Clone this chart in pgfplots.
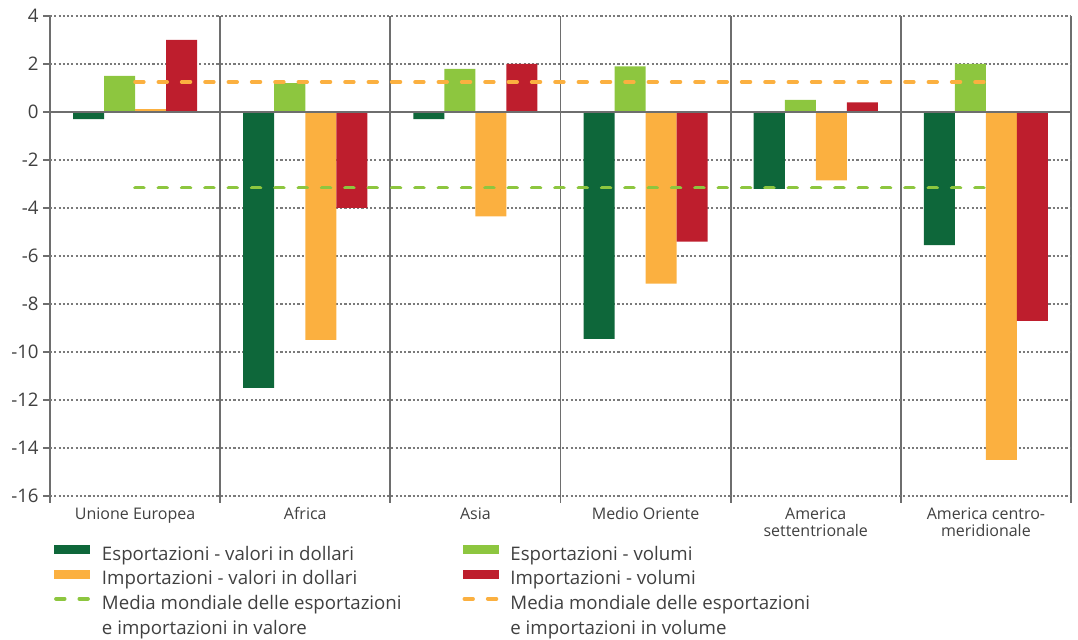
\documentclass[border=0pt]{standalone}
\usepackage{pgfplots}
\pgfplotsset{compat=1.18}
\usepackage{fontspec}
\setmainfont{Open Sans}
\definecolor{dg}{HTML}{0E673A}
\definecolor{lg}{HTML}{8DC63F}
\definecolor{og}{HTML}{FBB040}
\definecolor{rd}{HTML}{BE1E2D}
\definecolor{axc}{HTML}{6E6E6E}
\definecolor{gridc}{HTML}{7A7A7A}
\definecolor{tx}{HTML}{404040}
\newcommand{\lt}[1]{\makebox[269pt][l]{#1}}
\pgfplotsset{
  mybar/.style 2 args={ybar, bar width=0.1822, bar shift=#2, draw=none, fill=#1,
    legend image code/.code={\fill[#1] (0pt,-0.8pt) rectangle (27pt,6.2pt); \path (34.5pt,0pt);}},
  mydash/.style={sharp plot, draw=#1, line width=2.8pt, line cap=round, dash pattern=on 6.5pt off 11pt,
    legend image code/.code={\draw[#1, line width=2.8pt, line cap=round, dash pattern=on 6.5pt off 11pt] (1.4pt,2.8pt) -- (27pt,2.8pt); \path (0pt,0pt) (34.5pt,0pt);}},
}
\begin{document}
\begin{tikzpicture}
\begin{axis}[
  name=ax,
  scale only axis, width=765.75pt, height=360pt,
  xmin=-0.5, xmax=5.5, ymin=-16, ymax=4,
  axis line style={draw=none},
  tick pos=left, tick align=outside,
  xtick={0,1,2,3,4,5},
  xticklabels={Unione Europea, Africa, Asia, Medio Oriente, {America\\settentrionale}, {America centro-\\meridionale}},
  x tick label style={align=center, font=\fontsize{12}{12.8}\selectfont, text=tx, yshift=0pt},
  major x tick style={draw=none},
  minor xtick={-0.5,0.5,1.5,2.5,3.5,4.5,5.5},
  xminorgrids=true,
  minor grid style={solid, draw=axc, line width=1.4pt},
  minor x tick style={draw=axc, line width=1.4pt},
  minor tick length=5pt,
  ytick={-16,-14,...,4},
  ymajorgrids=true,
  major grid style={draw=gridc, line width=0.9pt, dash pattern=on 1.6pt off 1.6pt},
  y tick style={draw=axc, line width=1pt},
  major tick length=5pt,
  y tick label style={font=\fontsize{14}{14}\selectfont, text=tx},
  /pgf/number format/assume math mode=true,
  legend columns=2,
  legend cell align=left,
  legend style={at={(axis description cs:0,0)}, xshift=1.5pt, yshift=-33.5pt, anchor=north west,
    draw=none, fill=none, inner sep=0pt, column sep=0pt, row sep=0pt,
    font=\fontsize{14}{14}\selectfont, text=tx,
    nodes={inner sep=0pt, text height=14.5pt, text depth=4pt}},
]
\addplot[mybar={dg}{-0.2733}] coordinates {(0,-0.3) (1,-11.5) (2,-0.3) (3,-9.45) (4,-3.2) (5,-5.55)};
\addlegendentry{\lt{Esportazioni - valori in dollari}}
\addplot[mybar={lg}{-0.0911}] coordinates {(0,1.5) (1,1.2) (2,1.8) (3,1.9) (4,0.5) (5,2.0)};
\addlegendentry{Esportazioni - volumi}
\addplot[mybar={og}{0.0911}] coordinates {(0,0.12) (1,-9.5) (2,-4.35) (3,-7.15) (4,-2.85) (5,-14.5)};
\addlegendentry{\lt{Importazioni - valori in dollari}}
\addplot[mybar={rd}{0.2733}] coordinates {(0,3.0) (1,-4.0) (2,2.0) (3,-5.4) (4,0.4) (5,-8.7)};
\addlegendentry{Importazioni - volumi}
\addplot[sharp plot, draw=axc, line width=1.5pt, forget plot] coordinates {(-0.5,0) (5.5,0)};
\addplot[mydash=lg] coordinates {(0,-3.15) (5,-3.15)};
\addlegendentry{\lt{Media mondiale delle esportazioni}}
\addplot[mydash=og] coordinates {(0,1.25) (5,1.25)};
\addlegendentry{Media mondiale delle esportazioni}
\addlegendimage{legend image code/.code={\path (0pt,0pt) (34.5pt,0pt);}}
\addlegendentry{\lt{e importazioni in valore}}
\addlegendimage{legend image code/.code={\path (0pt,0pt) (34.5pt,0pt);}}
\addlegendentry{e importazioni in volume}
\end{axis}
\pgfresetboundingbox
\path[use as bounding box] ([xshift=-37.5pt,yshift=-108pt]ax.south west) rectangle ([xshift=5.25pt,yshift=12pt]ax.north east);
\end{tikzpicture}
\end{document}
